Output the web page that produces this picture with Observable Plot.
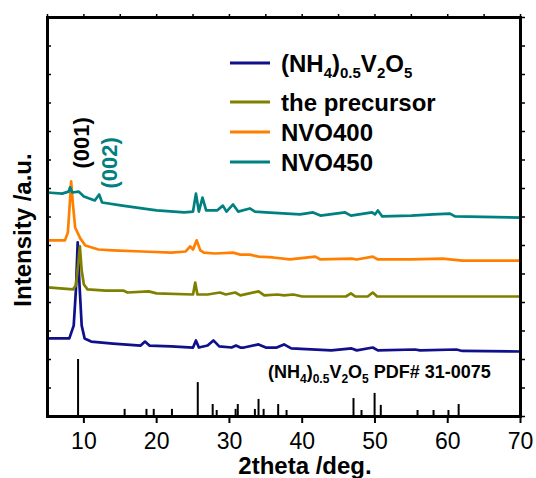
<!DOCTYPE html>
<html><head><meta charset="utf-8">
<script src="https://cdn.jsdelivr.net/npm/d3@7"></script>
<script src="https://cdn.jsdelivr.net/npm/@observablehq/plot@0.6"></script>
<style>body{margin:0;background:#fff} #chart{position:relative;width:536px;height:478px;overflow:hidden}
#box{position:absolute;box-sizing:border-box;border:3px solid #000;pointer-events:none}</style>
</head><body><div id="chart"><div id="box"></div></div>
<script>
const seriesNames = ["(NH4)0.5V2O5", "the precursor", "NVO400", "NVO450"];
const seriesColors = ["#10108c", "#808000", "#ff8000", "#008080"];

const blueX = [5,8.0,8.6,8.9,9.15,9.4,9.7,10.1,11,14,17.8,18.4,19,22,25.0,25.4,25.8,27.0,27.8,28.6,30.3,30.9,31.5,32,34.0,35,36.5,37.5,38.5,44,46.8,47.5,49.7,50.4,55.5,56.2,61.2,62,70];
const blueY = [2.74,2.74,3.19,4.42,6.11,4.60,3.19,2.74,2.63,2.56,2.49,2.63,2.49,2.46,2.42,2.67,2.42,2.49,2.67,2.46,2.42,2.49,2.42,2.42,2.53,2.42,2.42,2.53,2.39,2.32,2.39,2.32,2.42,2.32,2.35,2.32,2.35,2.30,2.28];

const oliveX = [5,8.5,8.9,9.2,9.45,9.7,10.0,10.5,13,15.4,16,18.9,20,25.0,25.3,25.6,27,28.7,29.5,30.8,31.5,34.0,34.8,36.6,37.5,38.8,40,46,46.7,47.3,49.0,49.7,50.3,55.5,70];
const oliveY = [4.53,4.46,4.60,5.30,5.97,5.12,4.63,4.46,4.42,4.42,4.35,4.39,4.32,4.28,4.70,4.28,4.28,4.35,4.28,4.35,4.25,4.39,4.25,4.28,4.25,4.28,4.21,4.21,4.32,4.21,4.21,4.35,4.21,4.21,4.21];

const orangeX = [5,7.4,7.8,8.0,8.25,8.45,8.8,9.5,10.2,12,14,18,22,24.0,24.6,25.0,25.5,26.0,26.5,28,30.5,31.5,32.8,34,36,38.3,41.8,42.5,46.8,47.5,49.7,50.4,55,59.3,62,70];
const orangeY = [6.18,6.18,6.46,7.23,8.25,7.58,6.63,6.25,6.0,5.86,5.83,5.79,5.75,5.79,5.97,5.86,6.18,5.83,5.75,5.72,5.75,5.68,5.68,5.61,5.58,5.51,5.61,5.51,5.54,5.51,5.61,5.51,5.51,5.54,5.47,5.47];

const tealX = [5,7.0,7.9,8.1,8.4,9.3,10.0,11.5,12.1,12.5,15.3,18,20,23.8,25.0,25.4,25.8,26.3,26.8,28.3,29.1,29.6,30.5,31.2,32.8,33.5,35,39.7,41.5,42.5,45.9,46.7,49.6,50.0,50.4,51,55,58,60.3,61,70];
const tealY = [7.86,7.82,7.89,8.04,7.86,7.89,7.72,7.58,7.79,7.51,7.40,7.30,7.23,7.16,7.19,7.82,7.19,7.68,7.23,7.23,7.40,7.19,7.44,7.19,7.30,7.19,7.16,7.09,7.16,7.05,7.16,7.05,7.16,7.09,7.23,7.02,7.05,7.09,7.12,7.02,6.98];

const stickX = [9.2,15.6,18.6,19.6,22.1,25.65,27.7,28.25,30.85,31.15,33.5,34.0,34.7,36.7,37.85,47.05,48.15,49.95,50.8,55.85,58.05,60.1,61.5];
const stickH = [2.0,0.25,0.25,0.25,0.25,1.19,0.42,0.21,0.25,0.42,0.25,0.6,0.25,0.42,0.21,0.63,0.21,0.81,0.39,0.21,0.21,0.21,0.42];

const xTickLabels = [10,20,30,40,50,60,70];
const xMinorTicks = [5,10,15,20,25,30,35,40,45,50,55,60,65,70];
const yTicks = [0,1,2,3,4,5,6,7,8,9,10,11,12,13,14];
const xDomain = [5, 70];
const yDomain = [0, 14];

const peakLabels = ["(001)", "(002)"];
const peakLabelX = [9.75, 13.6];
const peakLabelY = [9.6, 8.9];
const peakLabelColor = ["#000000", "#008080"];

const xLabel = "2theta /deg.";
const yLabel = "Intensity /a.u.";

const allX = [blueX, oliveX, orangeX, tealX];
const allY = [blueY, oliveY, orangeY, tealY];
const rows = [];
seriesNames.forEach((s, i) => allX[i].forEach((x, j) => rows.push({s, x, y: allY[i][j], c: seriesColors[i]})));
const sticks = stickX.map((x, i) => ({x, h: stickH[i]}));
const labels = peakLabels.map((t, i) => ({t, x: peakLabelX[i], y: peakLabelY[i], c: peakLabelColor[i]}));

const FONT = "'Liberation Sans', Arial, Helvetica, sans-serif";
const M = {left: 47, right: 16, top: 17, bottom: 62};

const svg = Plot.plot({
  width: 536, height: 478,
  marginLeft: M.left, marginRight: M.right, marginTop: M.top, marginBottom: M.bottom,
  x: {domain: xDomain},
  y: {domain: yDomain},
  style: {fontFamily: FONT, background: "white", color: "black"},
  marks: [
    Plot.ruleX(sticks, {x: "x", y1: 0, y2: "h", stroke: "black", strokeWidth: 2}),
    Plot.line(rows, {x: "x", y: "y", z: "s", stroke: d => d.c, strokeWidth: 2.7, strokeLinejoin: "round"}),
    Plot.axisX({ticks: xTickLabels, tickSize: 7, tickPadding: 9, fontSize: 23, label: null, strokeWidth: 2}),
    Plot.axisX({anchor: "top", ticks: xMinorTicks, tickSize: 4, tickFormat: () => "", label: null, strokeWidth: 1.5}),
    Plot.axisY({anchor: "left", ticks: yTicks, tickSize: -4, tickFormat: () => "", label: null, strokeWidth: 1.5}),
    Plot.axisY({anchor: "right", ticks: yTicks, tickSize: 4, tickFormat: () => "", label: null, strokeWidth: 1.5}),
    Plot.frame({stroke: "black", strokeWidth: 3}),
    Plot.text(labels, {x: "x", y: "y", text: "t", fill: d => d.c, rotate: -90, fontSize: 22, fontWeight: "bold", textAnchor: "middle", lineAnchor: "middle"}),
    Plot.text([xLabel], {frameAnchor: "bottom", dx: 21, dy: 50, fontSize: 24, fontWeight: "bold", textAnchor: "middle", lineAnchor: "middle"}),
    Plot.text([yLabel], {frameAnchor: "left", rotate: -90, dx: -24, dy: 13, fontSize: 24, fontWeight: "bold", textAnchor: "middle", lineAnchor: "middle"})
  ]
});
svg.style.position = "absolute";
svg.style.left = "0px";
svg.style.top = "0px";

const root = d3.select(svg);
// Legend and pattern caption with subscripts
function richText(g, x, y, size, subSize, parts, shift) {
  const t = g.append("text").attr("x", x).attr("y", y)
    .attr("font-size", size).attr("font-weight", "bold").attr("fill", "black")
    .attr("font-family", FONT).attr("text-anchor", "start");
  let low = false;
  parts.forEach(([str, sub]) => {
    const ts = t.append("tspan").text(str);
    if (sub && !low) { ts.attr("dy", shift).attr("font-size", subSize); low = true; }
    else if (sub) { ts.attr("font-size", subSize); }
    else if (!sub && low) { ts.attr("dy", -shift); low = false; }
  });
  return t;
}
const formulaParts = [["(NH", false], ["4", true], [")", false], ["0.5", true], ["V", false], ["2", true], ["O", false], ["5", true]];
const leg = root.append("g");
const legY = [63, 102, 132, 162];
seriesNames.forEach((s, i) => {
  leg.append("line").attr("x1", 230).attr("x2", 270).attr("y1", legY[i]).attr("y2", legY[i])
    .attr("stroke", seriesColors[i]).attr("stroke-width", 3);
  if (i === 0) richText(leg, 281, legY[i] + 9, 24, 15, formulaParts, 6);
  else richText(leg, 281, legY[i] + 9, 24, 15, [[s, false]], 6);
});
richText(root.append("g"), 268, 378, 18, 12, [...formulaParts, [" PDF# 31-0075", false]], 5);

const chart = document.getElementById("chart");
chart.insertBefore(svg, chart.firstChild);
// box drawn over the plot area, matching the frame
const box = document.getElementById("box");
box.style.left = (M.left - 1.5) + "px";
box.style.top = (M.top - 1.5) + "px";
box.style.width = (536 - M.left - M.right + 3) + "px";
box.style.height = (478 - M.top - M.bottom + 3) + "px";
</script>
</body></html>
